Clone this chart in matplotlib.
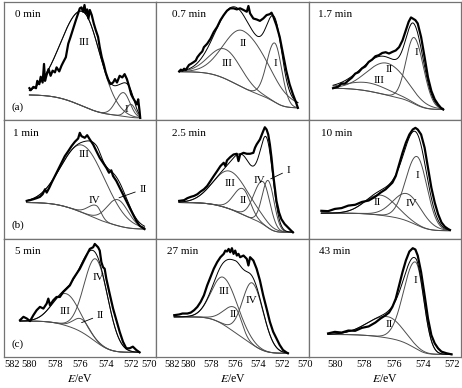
""" XPS spectra fitted with components I-IV, nine sputtering times """

import numpy as np
import matplotlib
matplotlib.use("Agg")
import matplotlib.pyplot as plt

plt.rcParams['font.family'] = ['Liberation Serif', 'DejaVu Serif']
plt.rcParams['mathtext.fontset'] = 'stix'


""" data read from the picture (E in eV, intensity in a.u. per panel) """

tiempos = ["0 min", "0.7 min", "1.7 min", "1 min", "2.5 min", "10 min",
           "5 min", "27 min", "43 min"]

# 0 min
ev_0 = [580.01, 579.91, 579.70, 579.49, 579.39, 579.23, 579.12, 578.97, 578.86,
        578.78, 578.65, 578.50, 578.34, 578.18, 578.00, 577.87, 577.66, 577.48,
        577.35, 577.14, 576.95, 576.77, 576.56, 576.35, 576.17, 576.04, 575.91,
        575.78, 575.67, 575.57, 575.46, 575.36, 575.25, 575.10, 574.94, 574.78,
        574.60, 574.47, 574.31, 574.16, 574.00, 573.82, 573.63, 573.42, 573.27,
        573.11, 572.90, 572.69, 572.51, 572.33, 572.17, 571.99, 571.86, 571.70,
        571.54, 571.44, 571.33, 571.28]
cps_0 = [27.1, 25.4, 28.2, 27.1, 33.3, 30.5, 36.8, 31.9, 47.6, 33.3, 38.5, 43.3,
         37.6, 41.9, 40.5, 44.7, 41.3, 46.2, 49.0, 53.3, 64.7, 70.4, 77.5, 84.6,
         90.3, 94.6, 95.4, 91.7, 97.4, 90.3, 93.7, 86.0, 93.2, 88.9, 81.8, 76.1,
         70.4, 61.8, 53.3, 47.6, 40.5, 34.8, 30.5, 31.9, 34.8, 31.9, 37.6, 36.2,
         39.0, 34.8, 29.1, 21.9, 19.1, 16.2, 13.4, 17.7, 7.7, 2.0]
bg_0 = (21.4, 2.0)
picos_0 = [("III", 575.8, 80, 4.0, 3.2), ("II", 572.6, 20, 1.4, 1.2),
           ("I", 572.0, 11, 0.9, 0.8)]

# 0.7 min
ev_1 = [580.76, 580.62, 580.48, 580.34, 580.20, 580.06, 579.92, 579.77, 579.55,
        579.35, 579.21, 578.99, 578.79, 578.65, 578.37, 578.09, 577.81, 577.52,
        577.24, 576.96, 576.68, 576.40, 576.12, 575.84, 575.56, 575.27, 574.99,
        574.85, 574.71, 574.43, 574.15, 573.87, 573.59, 573.30, 573.02, 572.88,
        572.74, 572.46, 572.18, 571.90, 571.62, 571.34, 571.05, 570.83, 570.63]
cps_1 = [41.3, 42.8, 41.9, 43.6, 42.5, 44.7, 46.8, 47.6, 49.0, 50.4, 53.3, 56.1,
         58.2, 61.8, 64.7, 68.9, 74.6, 78.9, 84.6, 88.9, 92.6, 94.6, 94.6, 93.7,
         94.6, 93.2, 91.7, 96.6, 90.3, 86.0, 85.2, 84.0, 86.0, 88.9, 89.7, 90.9,
         88.0, 80.3, 70.4, 56.1, 41.9, 30.5, 21.9, 16.2, 10.5]
bg_1 = (41.0, 10.5)
picos_1 = [("III", 576.8, 25, 3.2, 3.2), ("II", 575.3, 48, 3.8, 5.0),
           ("I", 572.6, 50, 1.6, 1.4)]

# 1.7 min
ev_2 = [580.14, 579.79, 579.56, 579.33, 579.10, 578.86, 578.63, 578.40, 578.17,
        577.94, 577.71, 577.48, 577.25, 577.02, 576.78, 576.55, 576.32, 576.09,
        575.86, 575.63, 575.40, 575.17, 574.98, 574.82, 574.70, 574.52, 574.36,
        574.13, 573.89, 573.66, 573.43, 573.20, 572.97, 572.74, 572.62]
cps_2 = [27.1, 28.4, 31.2, 31.0, 33.6, 36.0, 39.4, 40.6, 43.8, 45.5, 49.3, 51.2,
         54.1, 55.0, 56.9, 57.5, 56.4, 57.8, 59.0, 61.8, 67.5, 76.1, 83.2, 86.9,
         86.0, 84.6, 81.8, 70.4, 53.3, 36.2, 24.8, 17.7, 13.4, 10.0, 9.1]
bg_2 = (27.1, 9.1)
picos_2 = [("I", 574.6, 56, 1.3, 1.5), ("II", 576.45, 27, 3.2, 3.2),
           ("III", 577.7, 7, 3.5, 3.5)]

# 1 min
ev_3 = [580.22, 579.96, 579.70, 579.44, 579.18, 578.97, 578.78, 578.65, 578.44,
        578.26, 578.00, 577.74, 577.48, 577.22, 576.95, 576.69, 576.43, 576.17,
        576.04, 575.91, 575.65, 575.46, 575.25, 574.99, 574.73, 574.47, 574.21,
        573.95, 573.74, 573.56, 573.42, 573.16, 572.90, 572.64, 572.38, 572.12,
        571.86, 571.59, 571.33, 571.07, 570.94]
cps_3 = [31.9, 32.5, 33.3, 34.2, 35.3, 37.5, 41.7, 38.9, 43.1, 47.3, 52.9, 58.5,
         64.1, 69.7, 73.9, 78.2, 81.8, 84.6, 89.4, 86.6, 85.2, 87.4, 83.8, 79.6,
         73.9, 68.3, 64.1, 59.9, 55.7, 57.7, 52.9, 48.7, 43.1, 37.5, 31.9, 26.3,
         20.7, 15.1, 10.9, 9.0, 8.1]
bg_3 = (30.5, 8.1)
picos_3 = [("III", 575.8, 57, 3.9, 4.2), ("IV", 574.75, 11, 1.5, 0.9),
           ("II", 573.05, 22, 2.0, 2.0)]

# 2.5 min
ev_4 = [580.76, 580.34, 580.06, 579.77, 579.49, 579.21, 578.93, 578.65, 578.37,
        578.09, 577.81, 577.52, 577.24, 576.96, 576.82, 576.68, 576.40, 576.12,
        575.84, 575.70, 575.56, 575.27, 574.99, 574.71, 574.43, 574.29, 574.15,
        573.87, 573.59, 573.45, 573.30, 573.16, 573.02, 572.88, 572.74, 572.60,
        572.46, 572.24, 572.04, 571.76, 571.48, 571.20, 571.05]
cps_4 = [31.9, 32.5, 34.2, 35.3, 36.1, 37.5, 39.8, 41.7, 44.5, 48.7, 52.9, 57.1,
         61.3, 64.1, 61.3, 66.1, 68.9, 71.1, 71.7, 65.5, 71.1, 72.5, 71.7, 71.7,
         72.5, 76.8, 79.6, 83.8, 90.8, 94.1, 92.2, 88.0, 79.6, 68.3, 54.3, 43.1,
         31.9, 22.1, 16.5, 12.3, 9.5, 6.7, 5.3]
bg_4 = (30.5, 5.3)
picos_4 = [("III", 576.4, 32, 3.4, 3.8), ("II", 575.33, 22, 1.8, 1.5),
           ("IV", 573.6, 36, 1.8, 1.4), ("I", 573.16, 40, 1.2, 1.2)]

# 10 min
ev_5 = [580.94, 580.48, 580.02, 579.56, 579.10, 578.63, 578.17, 577.71, 577.25,
        576.90, 576.55, 576.32, 576.09, 575.86, 575.63, 575.40, 575.17, 574.93,
        574.70, 574.52, 574.36, 574.13, 573.89, 573.66, 573.43, 573.20, 572.97,
        572.74, 572.51, 572.28, 572.16]
cps_5 = [23.5, 23.2, 25.1, 25.8, 27.9, 28.6, 31.0, 32.2, 35.5, 38.9, 41.7, 44.5,
         47.3, 52.9, 62.7, 72.5, 81.0, 88.0, 92.2, 93.6, 92.2, 88.0, 76.8, 59.9,
         43.1, 30.5, 20.7, 13.7, 10.1, 8.1, 7.3]
bg_5 = (21.5, 6.7)
picos_5 = [("I", 574.4, 58, 1.8, 1.6), ("IV", 575.05, 23, 2.3, 2.3),
           ("II", 576.9, 17, 2.5, 2.5)]

# 5 min
ev_6 = [580.75, 580.48, 580.22, 579.96, 579.70, 579.44, 579.18, 578.91, 578.65,
        578.52, 578.39, 578.13, 577.87, 577.61, 577.35, 577.08, 576.82, 576.56,
        576.30, 576.04, 575.78, 575.52, 575.25, 574.99, 574.86, 574.73, 574.60,
        574.47, 574.34, 574.21, 574.08, 573.95, 573.69, 573.42, 573.16, 572.90,
        572.64, 572.38, 572.12, 571.86, 571.59, 571.33]
cps_6 = [31.1, 33.9, 32.5, 30.3, 35.3, 39.5, 42.3, 40.9, 45.1, 49.3, 43.7, 47.9,
         50.7, 50.7, 54.9, 57.7, 60.5, 66.1, 70.3, 74.5, 80.1, 85.7, 91.3, 92.7,
         95.5, 94.1, 92.7, 89.9, 80.1, 75.9, 74.5, 66.1, 53.5, 40.9, 31.1, 21.3,
         12.9, 7.3, 7.3, 8.7, 5.9, 3.9]
bg_6 = (30.3, 3.9)
picos_6 = [("IV", 574.75, 70, 2.2, 2.2), ("III", 577.1, 27, 2.5, 2.5),
           ("II", 575.9, 11, 1.5, 1.5)]

# 27 min
ev_7 = [581.18, 580.76, 580.48, 580.06, 579.77, 579.49, 579.21, 578.93, 578.65,
        578.37, 578.09, 577.81, 577.52, 577.24, 576.96, 576.82, 576.68, 576.54,
        576.40, 576.26, 576.12, 575.98, 575.84, 575.70, 575.56, 575.27, 574.99,
        574.85, 574.71, 574.43, 574.15, 573.87, 573.59, 573.30, 573.02, 572.74,
        572.46, 572.18, 571.90, 571.62, 571.48]
cps_7 = [35.3, 35.9, 36.7, 36.7, 37.5, 39.5, 42.3, 46.5, 52.1, 60.5, 67.5, 74.5,
         80.1, 84.3, 87.1, 89.9, 89.1, 91.3, 88.5, 91.9, 87.1, 89.9, 85.7, 87.1,
         84.3, 85.7, 82.9, 77.3, 84.3, 81.5, 74.5, 64.7, 52.1, 40.9, 29.7, 21.3,
         15.7, 10.1, 5.9, 3.9, 3.1]
bg_7 = (33.9, 3.1)
picos_7 = [("III", 576.96, 40, 2.4, 2.8), ("II", 575.98, 21, 2.2, 1.3),
           ("IV", 574.5, 52, 2.0, 2.2)]

# 43 min
ev_8 = [580.48, 580.02, 579.56, 579.10, 578.63, 578.17, 577.71, 577.25, 576.90,
        576.55, 576.32, 576.09, 575.86, 575.63, 575.40, 575.17, 574.93, 574.70,
        574.52, 574.36, 574.13, 573.89, 573.66, 573.43, 573.20, 572.97, 572.74,
        572.39, 572.05]
cps_8 = [19.9, 21.2, 20.6, 22.3, 22.1, 24.6, 25.8, 29.1, 32.5, 35.3, 37.5, 42.3,
         49.3, 60.5, 71.7, 81.5, 89.1, 91.9, 90.8, 85.7, 71.7, 52.1, 32.5, 18.5,
         11.5, 7.3, 4.5, 3.1, 2.2]
bg_8 = (19.0, 2.2)
picos_8 = [("I", 574.5, 73, 1.9, 1.3), ("II", 576.4, 18, 3.2, 2.4)]


""" label placement (E, intensity) """

etiquetas = [
    [("III", 575.7, 66), ("I", 572.35, 9)],
    [("II", 575.27, 65), ("III", 576.68, 48), ("I", 572.52, 48)],
    [("I", 574.43, 57), ("II", 576.32, 43), ("III", 577.02, 34)],
    [("III", 575.72, 71), ("IV", 574.86, 32.5)],
    [("III", 576.46, 46.5), ("II", 575.33, 32.5), ("IV", 573.92, 48.7)],
    [("I", 574.36, 53), ("II", 577.13, 30.5), ("IV", 574.82, 29.7)],
    [("IV", 574.60, 67.5), ("III", 577.22, 38)],
    [("III", 576.96, 55), ("II", 576.17, 36), ("IV", 574.57, 48)],
    [("I", 574.52, 65), ("II", 576.32, 27.5)],
]
# (panel, text, text position, tip of the leader line)
flechas = [(3, "II", (571.35, 41.7), (572.95, 34.5)),
           (4, "I", (571.6, 57.7), (572.95, 50.5)),
           (6, "II", (574.7, 35.3), (575.9, 29.0))]
letras = {0: "(a)", 3: "(b)", 6: "(c)"}
x_titulo = [0.07, 0.10, 0.06, 0.06, 0.10, 0.08, 0.07, 0.07, 0.07]


def pico(x, c, h, w_hi, w_lo):
    """ asymmetric gaussian, separate FWHM on each side """
    w = np.where(x > c, w_hi, w_lo)
    return h * np.exp(-4 * np.log(2) * ((x - c) / w) ** 2)


def fondo_shirley(x, total, izq, der):
    """ Shirley type background, x goes from high to low energy """
    seg = (total[1:] + total[:-1]) / 2 * np.abs(np.diff(x))
    area = np.concatenate(([0.0], np.cumsum(seg)))
    frac = 1 - area / area[-1]
    return der + (izq - der) * frac


evs = [ev_0, ev_1, ev_2, ev_3, ev_4, ev_5, ev_6, ev_7, ev_8]
cpss = [cps_0, cps_1, cps_2, cps_3, cps_4, cps_5, cps_6, cps_7, cps_8]
bgs = [bg_0, bg_1, bg_2, bg_3, bg_4, bg_5, bg_6, bg_7, bg_8]
picos = [picos_0, picos_1, picos_2, picos_3, picos_4, picos_5, picos_6,
         picos_7, picos_8]

limites = [(582, 570), (582.7, 569.7), (581.8, 571.4)]
marcas = [list(range(582, 569, -2)), list(range(582, 569, -2)),
          list(range(580, 571, -2))]

fig, axes = plt.subplots(3, 3, figsize=(4.62, 3.88), dpi=100)
fig.subplots_adjust(left=0.009, right=0.998, top=0.995, bottom=0.08,
                    wspace=0, hspace=0)

for i, ax in enumerate(axes.flat):
    fila, col = divmod(i, 3)
    ev = np.array(evs[i])
    xs = np.linspace(ev[0], ev[-1], 400)

    comps = [pico(xs, c, h, a, b) for _, c, h, a, b in picos[i]]
    suma = np.sum(comps, axis=0)
    bg = fondo_shirley(xs, suma, *bgs[i])

    for comp in comps:
        ax.plot(xs, bg + comp, color='0.3', lw=0.7)
    ax.plot(xs, bg, color='0.3', lw=0.7)
    ax.plot(xs, bg + suma, color='k', lw=0.7)
    ax.plot(ev, cpss[i], color='k', lw=1.6)

    for txt, x, y in etiquetas[i]:
        ax.text(x, y, txt, fontsize=8, ha='center', va='center')
    for j, txt, xy_txt, xy_tip in flechas:
        if j == i:
            ax.annotate(txt, xy=xy_tip, xytext=xy_txt, fontsize=8,
                        ha='left', va='center',
                        arrowprops=dict(arrowstyle='-', lw=0.6, color='k',
                                        shrinkA=1, shrinkB=0))
    ax.text(x_titulo[i], 0.89, tiempos[i], transform=ax.transAxes,
            fontsize=8, ha='left', va='center')
    if i in letras:
        ax.text(0.05, 0.11, letras[i], transform=ax.transAxes,
                fontsize=8, ha='left', va='center')

    ax.set_xlim(*limites[col])
    ax.set_ylim(0, 100)
    ax.set_yticks([])
    ax.set_xticks(marcas[col])
    ax.tick_params(axis='x', length=0, pad=2, labelsize=7.5,
                   labelbottom=(fila == 2))
    for s in ax.spines.values():
        s.set_color('0.45')
        s.set_linewidth(0.9)
    if fila == 2:
        ax.set_xlabel(r'$E$/eV', fontsize=8.5, labelpad=3)
        # keep the labels at the panel joins apart, as in the original
        labs = ax.get_xticklabels()
        if col == 0:
            labs[0].set_horizontalalignment('left')
            labs[-1].set_horizontalalignment('right')
        elif col == 1:
            labs[0].set_horizontalalignment('left')

fig.savefig('out.png', dpi=100)
